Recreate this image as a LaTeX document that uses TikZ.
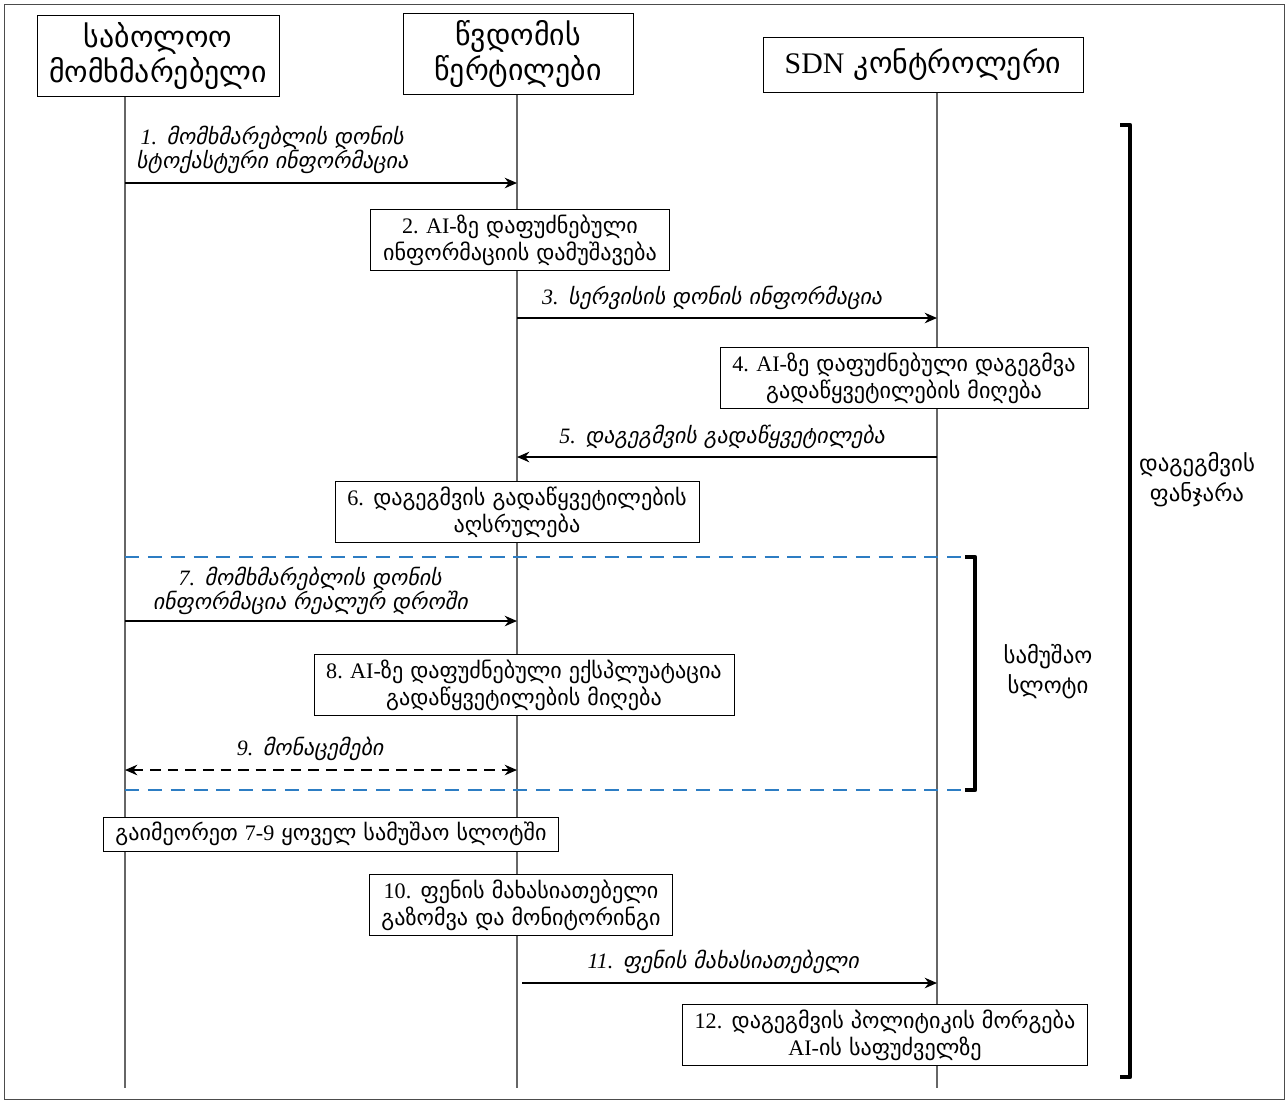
\documentclass[tikz,border=0pt]{standalone}
\usepackage{fontspec}
\setmainfont{Liberation Serif}
\newfontfamily\geo{DejaVu Sans}
\newfontfamily\geoit{DejaVu Sans}[FakeSlant=0.2]
\usetikzlibrary{arrows.meta}
\definecolor{slotblue}{RGB}{45,125,195}
\newcommand{\lat}[1]{{\rmfamily\upshape #1}}
\newcommand{\latit}[1]{{\rmfamily\itshape #1}}
\tikzset{
  actor/.style={draw, fill=white, align=center, inner sep=4pt, font=\geo\fontsize{17}{20}\selectfont},
  stepbox/.style={draw, fill=white, align=center, inner xsep=7pt, inner ysep=3pt, font=\geo\fontsize{12.6}{15.5}\selectfont},
  msglabel/.style={align=center, anchor=south, inner ysep=2pt, font=\geoit\fontsize{12.5}{14}\selectfont},
  sidelabel/.style={align=center, font=\geo\fontsize{13}{17}\selectfont},
  lifeline/.style={draw=black!60, line width=0.6pt},
  msg/.style={-{Stealth[length=7pt,width=6pt]}, line width=0.9pt},
  slotline/.style={draw=slotblue, line width=1.1pt, dash pattern=on 8pt off 5pt},
  bracket/.style={line width=2.4pt, line join=round}
}
\begin{document}
\begin{tikzpicture}[x=0.02cm, y=-0.02cm]
\useasboundingbox (0,0) rectangle (1288,1103);
\draw[black!70] (4,4) rectangle (1284,1099);

\node[actor, minimum width=4.84cm, minimum height=1.36cm] (user) at (158,56) {საბოლოო\\მომხმარებელი};
\node[actor, minimum width=4.6cm, minimum height=1.36cm] (ap) at (518,54) {წვდომის\\წერტილები};
\node[actor, minimum width=6.4cm, minimum height=1.1cm] (sdn) at (923,65) {\lat{SDN} კონტროლერი};

\coordinate (userB) at (125,1088);
\coordinate (apB) at (517,1088);
\coordinate (sdnB) at (937,1088);
\draw[lifeline] (user.south -| userB) -- (userB);
\draw[lifeline] (ap.south -| apB) -- (apB);
\draw[lifeline] (sdn.south -| sdnB) -- (sdnB);

% message end points
\coordinate (u1) at (125,183); \coordinate (a1) at (517,183);
\coordinate (a3) at (517,318); \coordinate (s3) at (937,318);
\coordinate (s5) at (937,457); \coordinate (a5) at (517,457);
\coordinate (u7) at (125,621); \coordinate (a7) at (517,621);
\coordinate (u9) at (125,770); \coordinate (a9) at (517,770);
\coordinate (a11) at (522,983); \coordinate (s11) at (937,983);

\draw[msg] (u1) -- (a1);
\node[msglabel] (l1) at (272,178) {\latit{1.} მომხმარებლის დონის\\სტოქასტური ინფორმაცია};
\node[stepbox] (b2) at (520,240) {\lat{2. AI-}ზე დაფუძნებული\\ინფორმაციის დამუშავება};

\draw[msg] (a3) -- (s3);
\node[msglabel] (l3) at (712,314) {\latit{3.} სერვისის დონის ინფორმაცია};
\node[stepbox] (b4) at (904,378) {\lat{4. AI-}ზე დაფუძნებული დაგეგმვა\\გადაწყვეტილების მიღება};

\draw[msg] (s5) -- (a5);
\node[msglabel] (l5) at (722,453) {\latit{5.} დაგეგმვის გადაწყვეტილება};
\node[stepbox] (b6) at (517,512) {\lat{6.} დაგეგმვის გადაწყვეტილების\\აღსრულება};

% working slot
\coordinate (slotTL) at (125,557); \coordinate (slotTR) at (975,557);
\coordinate (slotBL) at (125,790); \coordinate (slotBR) at (975,790);
\draw[slotline] (slotTL) -- ([xshift=-0.2cm]slotTR);
\draw[slotline] (slotBL) -- ([xshift=-0.2cm]slotBR);
\draw[bracket] ([xshift=-0.2cm]slotTR) -- (slotTR) -- (slotBR) -- ([xshift=-0.2cm]slotBR);

\draw[msg] (u7) -- (a7);
\node[msglabel] (l7) at (310,619) {\latit{7.} მომხმარებლის დონის\\ინფორმაცია რეალურ დროში};
\node[stepbox] (b8) at (524,685) {\lat{8. AI-}ზე დაფუძნებული ექსპლუატაცია\\გადაწყვეტილების მიღება};

\draw[msg, {Stealth[length=7pt,width=6pt]}-{Stealth[length=7pt,width=6pt]}, dash pattern=on 6pt off 4pt] (u9) -- (a9);
\node[msglabel] (l9) at (310,765) {\latit{9.} მონაცემები};

\node[stepbox] (rep) at (331,834) {გაიმეორეთ \lat{7-9} ყოველ სამუშაო სლოტში};
\node[stepbox] (b10) at (521,905) {\lat{10.} ფენის მახასიათებელი\\გაზომვა და მონიტორინგი};

\draw[msg] (a11) -- (s11);
\node[msglabel] (l11) at (723,978) {\latit{11.} ფენის მახასიათებელი};
\node[stepbox] (b12) at (885,1035) {\lat{12.} დაგეგმვის პოლიტიკის მორგება\\\lat{AI-}ის საფუძველზე};

% scheduling window
\coordinate (winT) at (1130,125); \coordinate (winB) at (1130,1077);
\draw[bracket] ([xshift=-0.2cm]winT) -- (winT) -- (winB) -- ([xshift=-0.2cm]winB);

\node[sidelabel] (window) at (1197,480) {დაგეგმვის\\ფანჯარა};
\node[sidelabel] (slot) at (1048,672) {სამუშაო\\სლოტი};
\end{tikzpicture}
\end{document}
